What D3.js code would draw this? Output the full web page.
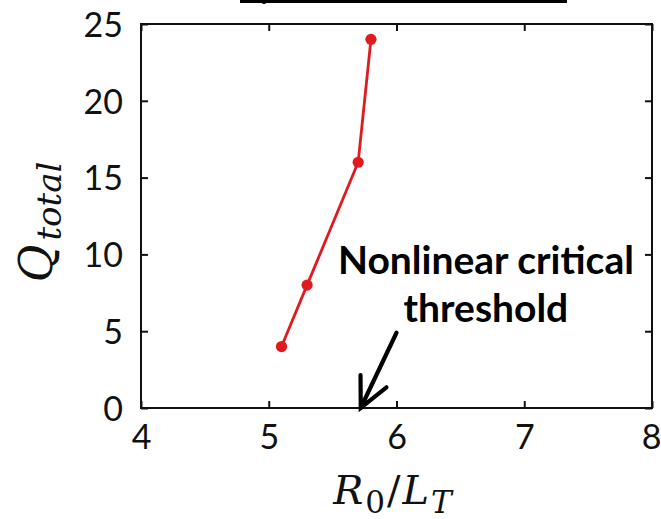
<!DOCTYPE html>
<html>
<head>
<meta charset="utf-8">
<script src="https://cdn.jsdelivr.net/npm/d3@7"></script>
<style>
  html, body { margin: 0; padding: 0; background: #fff; }
  svg { display: block; }
</style>
</head>
<body>
<svg id="chart" width="661" height="519"></svg>
<script>
// Heat flux vs. normalised temperature gradient
const ratioValues = [5.1, 5.3, 5.7, 5.8];   // R0/LT
const qValues     = [4, 8, 16, 24];         // Q_total
const xTicks = [4, 5, 6, 7, 8];
const yTicks = [0, 5, 10, 15, 20, 25];
const noteLines = ["Nonlinear critical", "threshold"];
const arrowFrom = [6.0, 4.9];
const arrowTo   = [5.72, 0];

const svg = d3.select("#chart");
const W = 661, H = 519;
const margin = { left: 141, right: 9, top: 24, bottom: 111 };

const x = d3.scaleLinear().domain([4, 8]).range([margin.left, W - margin.right]);
const y = d3.scaleLinear().domain([0, 25]).range([H - margin.bottom, margin.top]);

const tickFont = "Lato, 'Open Sans', sans-serif";
const lineColor = "#e01a1d";

// Underline of the panel heading, cut by the top edge
svg.append("path")
  .attr("d", "M240,1.5H567M264,1.5V4")
  .attr("stroke", "#000").attr("stroke-width", 3).attr("fill", "none");

// Bottom and left axes with labels, ticks pointing inward
const gx = svg.append("g")
  .attr("transform", `translate(0,${y(0)})`)
  .call(d3.axisBottom(x).tickValues(xTicks).tickSizeInner(-7).tickSizeOuter(0).tickPadding(17)
    .tickFormat(d3.format("d")));
const gy = svg.append("g")
  .attr("transform", `translate(${x(4)},0)`)
  .call(d3.axisLeft(y).tickValues(yTicks).tickSizeInner(-7).tickSizeOuter(0).tickPadding(18)
    .tickFormat(d3.format("d")));
// Mirror ticks on top and right
const gt = svg.append("g")
  .attr("transform", `translate(0,${y(25)})`)
  .call(d3.axisTop(x).tickValues(xTicks).tickSizeInner(-7).tickSizeOuter(0).tickFormat(""));
const gr = svg.append("g")
  .attr("transform", `translate(${x(8)},0)`)
  .call(d3.axisRight(y).tickValues(yTicks).tickSizeInner(-7).tickSizeOuter(0).tickFormat(""));

[gx, gy, gt, gr].forEach(g => {
  g.select(".domain").remove();
  g.selectAll(".tick line").attr("stroke", "#111").attr("stroke-width", 2);
  g.selectAll(".tick text")
    .attr("fill", "#111")
    .style("font-family", tickFont)
    .style("font-size", "34px");
});
gx.selectAll(".tick text").attr("dy", "0.71em");
gy.selectAll(".tick text").attr("dy", "0.36em");
// keep the last x label inside the page
gx.selectAll(".tick text").filter(d => d === 8).attr("text-anchor", "end").attr("x", 9);

// Plot frame
svg.append("rect")
  .attr("x", x(4)).attr("y", y(25))
  .attr("width", x(8) - x(4)).attr("height", y(0) - y(25))
  .attr("fill", "none").attr("stroke", "#111").attr("stroke-width", 2);

// Data series
const pts = ratioValues.map((r, i) => [r, qValues[i]]);
svg.append("path")
  .datum(pts)
  .attr("d", d3.line().x(d => x(d[0])).y(d => y(d[1])))
  .attr("fill", "none").attr("stroke", lineColor).attr("stroke-width", 2.8);
svg.append("g").selectAll("circle")
  .data(pts).join("circle")
  .attr("cx", d => x(d[0])).attr("cy", d => y(d[1]))
  .attr("r", 5.6).attr("fill", lineColor);

// Annotation
const note = svg.append("text")
  .attr("text-anchor", "middle")
  .style("font-family", tickFont)
  .style("font-weight", "bold")
  .style("font-size", "39px")
  .attr("fill", "#000");
note.selectAll("tspan").data(noteLines).join("tspan")
  .attr("x", x(6.7))
  .attr("y", (d, i) => 274 + i * 48)
  .text(d => d);

const ax0 = x(arrowFrom[0]), ay0 = y(arrowFrom[1]);
const ax1 = x(arrowTo[0]), ay1 = y(arrowTo[1]);
const ang = Math.atan2(ay1 - ay0, ax1 - ax0);
const wing = 33, spread = 0.45;
const w1 = [ax1 - wing * Math.cos(ang - spread), ay1 - wing * Math.sin(ang - spread)];
const w2 = [ax1 - wing * Math.cos(ang + spread), ay1 - wing * Math.sin(ang + spread)];
svg.append("path")
  .attr("d", `M${ax0},${ay0}L${ax1},${ay1}M${w1[0]},${w1[1]}L${ax1},${ay1}L${w2[0]},${w2[1]}`)
  .attr("fill", "none").attr("stroke", "#000").attr("stroke-width", 4.2)
  .attr("stroke-linecap", "round").attr("stroke-linejoin", "miter");

// Axis titles (math italic)
const mathFont = "'DejaVu Serif', 'Liberation Serif', serif";
function mathLabel(parent, parts, size, subSize, gap) {
  const t = parent.append("text")
    .attr("text-anchor", "middle")
    .style("font-family", mathFont)
    .style("font-size", size + "px")
    .attr("fill", "#111");
  let base = 0;
  parts.forEach((p, i) => {
    const shift = p.sub ? 9 : 0;
    const s = t.append("tspan")
      .attr("dy", shift - base)
      .attr("dx", i ? gap : 0)
      .style("font-style", p.italic ? "italic" : "normal")
      .text(p.text);
    if (p.sub) s.style("font-size", subSize + "px");
    base = shift;
  });
  return t;
}
const xt = svg.append("g").attr("transform", `translate(${x(6) - 4},504)`);
mathLabel(xt, [
  { text: "R", italic: true },
  { text: "0", sub: true },
  { text: "/" },
  { text: "L", italic: true },
  { text: "T", italic: true, sub: true }
], 40, 31, 2);

const yt = svg.append("g").attr("transform", `translate(52,222) rotate(-90)`);
mathLabel(yt, [
  { text: "Q", italic: true },
  { text: "total", italic: true, sub: true }
], 46, 34, 4);
</script>
</body>
</html>
